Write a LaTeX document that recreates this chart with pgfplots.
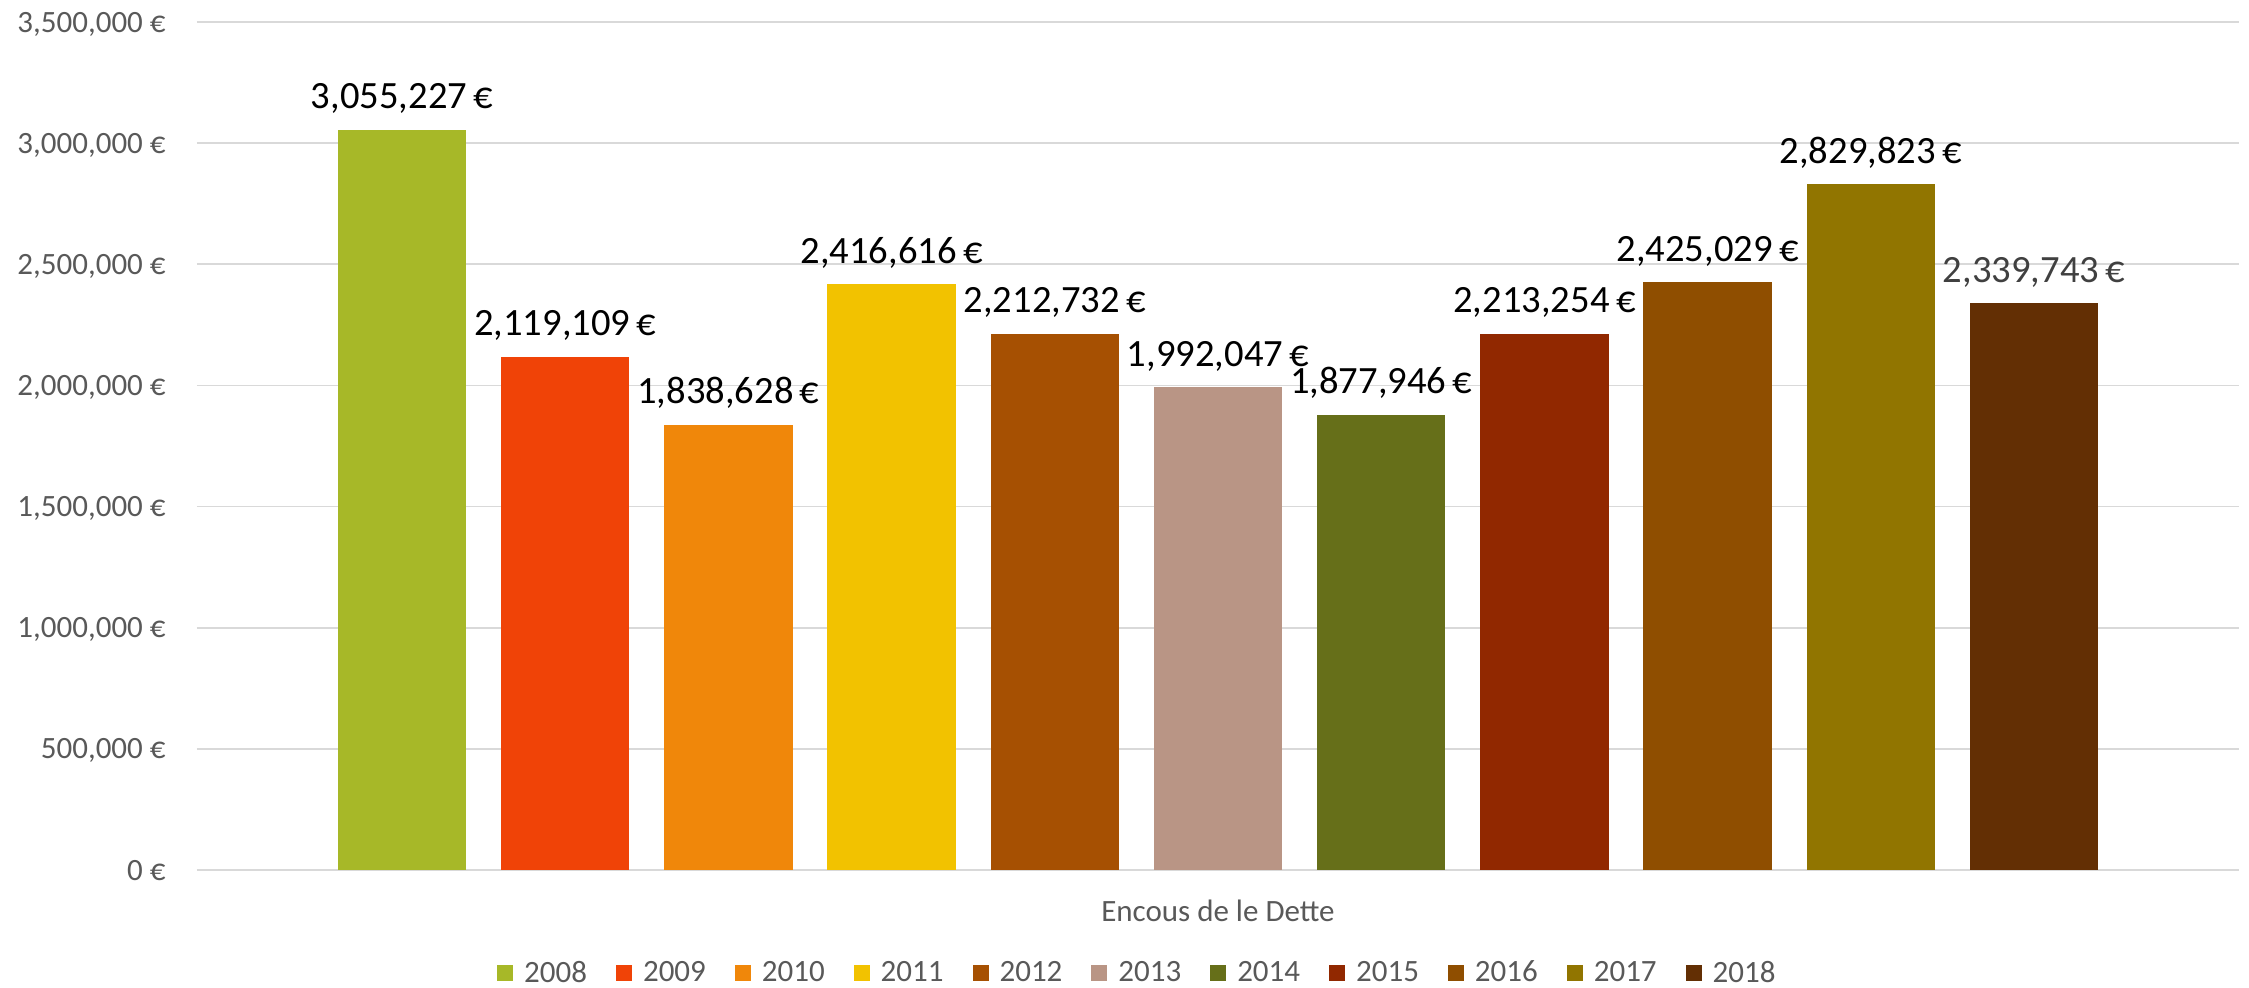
\documentclass[border=0pt]{standalone}
\usepackage{fontspec}
\setmainfont{Carlito}
\usepackage{pgfplots}
\pgfplotsset{compat=1.18}
\definecolor{c2008}{HTML}{A7B828}
\definecolor{c2009}{HTML}{F04307}
\definecolor{c2010}{HTML}{F0870A}
\definecolor{c2011}{HTML}{F2C200}
\definecolor{c2012}{HTML}{A65002}
\definecolor{c2013}{HTML}{B99585}
\definecolor{c2014}{HTML}{666F19}
\definecolor{c2015}{HTML}{912800}
\definecolor{c2016}{HTML}{8F4E00}
\definecolor{c2017}{HTML}{917500}
\definecolor{c2018}{HTML}{632F04}
\definecolor{gridc}{HTML}{D9D9D9}
\definecolor{txtc}{HTML}{595959}
\definecolor{lab18}{HTML}{404040}
\begin{document}
\begin{tikzpicture}
\path[use as bounding box] (-98.5pt,-59pt) rectangle (1026pt,435pt);
\begin{axis}[
  at={(0,0)}, anchor=south west,
  width=1021pt, height=424pt, scale only axis,
  ybar, bar shift=0pt, bar width=0.786,
  xmin=-1.256, xmax=11.256,
  ymin=0, ymax=3500000,
  clip=false,
  xtick=\empty,
  ytick={0,500000,1000000,1500000,2000000,2500000,3000000,3500000},
  yticklabels={{0 €},{500,000 €},{1,000,000 €},{1,500,000 €},{2,000,000 €},{2,500,000 €},{3,000,000 €},{3,500,000 €}},
  yticklabel style={font=\fontsize{15.5pt}{18pt}\selectfont, text=txtc, inner sep=0pt, anchor=east, text depth=0pt, xshift=-15.5pt},
  ymajorgrids,
  major grid style={draw=gridc, line width=0.9pt},
  axis line style={draw=none},
  tick style={draw=none},
  major tick length=0pt,
  xlabel={Encous de le Dette},
  xlabel style={font=\fontsize{15.5pt}{18pt}\selectfont, text=txtc, at={(axis description cs:0.5,0)}, anchor=center, yshift=-20.5pt},
  point meta=explicit symbolic,
  nodes near coords,
  every node near coord/.append style={font=\fontsize{19.3pt}{23pt}\selectfont, text=black, inner sep=0pt, anchor=base, yshift=10.5pt},
  legend columns=11,
  legend image code/.code={\fill[#1] (0pt,-4pt) rectangle (8pt,4pt);},
  legend style={at={(axis description cs:0.461,0)}, anchor=center, yshift=-51.5pt, draw=none, fill=none, inner sep=0pt,
    font=\fontsize{15.5pt}{18pt}\selectfont, text=txtc,
    /tikz/every odd column/.append style={column sep=3.5pt},
    /tikz/every even column/.append style={column sep=12.5pt}},
]
\addplot[fill=c2008, draw=none] coordinates {(0,3055227) [3,055,227\,€]};
\addplot[fill=c2009, draw=none] coordinates {(1,2119109) [2,119,109\,€]};
\addplot[fill=c2010, draw=none] coordinates {(2,1838628) [1,838,628\,€]};
\addplot[fill=c2011, draw=none] coordinates {(3,2416616) [2,416,616\,€]};
\addplot[fill=c2012, draw=none] coordinates {(4,2212732) [2,212,732\,€]};
\addplot[fill=c2013, draw=none] coordinates {(5,1992047) [1,992,047\,€]};
\addplot[fill=c2014, draw=none] coordinates {(6,1877946) [1,877,946\,€]};
\addplot[fill=c2015, draw=none] coordinates {(7,2213254) [2,213,254\,€]};
\addplot[fill=c2016, draw=none] coordinates {(8,2425029) [2,425,029\,€]};
\addplot[fill=c2017, draw=none] coordinates {(9,2829823) [2,829,823\,€]};
\addplot[fill=c2018, draw=none, every node near coord/.append style={text=lab18}] coordinates {(10,2339743) [2,339,743\,€]};
\legend{2008,2009,2010,2011,2012,2013,2014,2015,2016,2017,2018}
\end{axis}
\end{tikzpicture}
\end{document}
